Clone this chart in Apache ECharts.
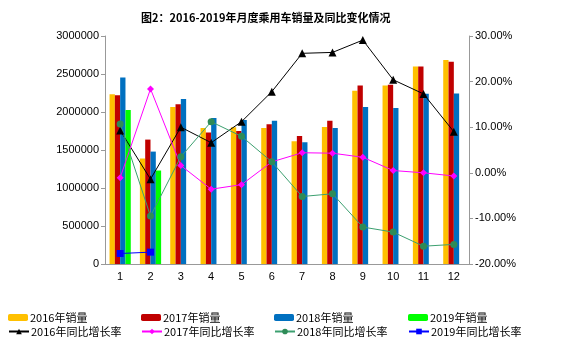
<!DOCTYPE html>
<html>
<head>
<meta charset="utf-8">
<script src="https://cdn.jsdelivr.net/npm/echarts@6/dist/echarts.min.js"></script>
<style>
  html, body { margin: 0; padding: 0; background: #fff; }
  #chart { width: 567px; height: 350px; }
</style>
</head>
<body>
<div id="chart"></div>
<script>
// Monthly passenger-vehicle sales and year-on-year growth, 2016-2019
const months = ['1', '2', '3', '4', '5', '6', '7', '8', '9', '10', '11', '12'];

const sales2016 = [2232000, 1388000, 2066000, 1790000, 1799000, 1790000, 1615000, 1803000, 2280000, 2350000, 2600000, 2683000];
const sales2017 = [2219000, 1637000, 2101000, 1729000, 1751000, 1838000, 1685000, 1886000, 2350000, 2359000, 2600000, 2661000];
const sales2018 = [2455000, 1479000, 2171000, 1921000, 1895000, 1886000, 1602000, 1790000, 2066000, 2052000, 2241000, 2245000];
const sales2019 = [2026000, 1230000, null, null, null, null, null, null, null, null, null, null];

const growth2016 = [9.3, -1.4, 10.0, 6.6, 11.2, 17.8, 26.2, 26.4, 29.1, 20.4, 17.3, 9.0];
const growth2017 = [-1.1, 18.4, 1.6, -3.6, -2.6, 2.4, 4.4, 4.3, 3.4, 0.5, 0.0, -0.7];
const growth2018 = [10.7, -9.5, 3.5, 11.2, 8.0, 2.4, -5.2, -4.6, -11.9, -13.0, -16.1, -15.7];
const growth2019 = [-17.7, -17.4, null, null, null, null, null, null, null, null, null, null];

const leftTicks = { min: 0, max: 3000000, interval: 500000 };
const rightTicks = { min: -20, max: 30, interval: 10 };

const labelFont = 'Liberation Sans, DejaVu Sans, sans-serif';
const cjkFont = '"Noto Sans CJK SC", sans-serif';

const chart = echarts.init(document.getElementById('chart'), null, { renderer: 'canvas' });

function barSeries(name, data, color) {
  return {
    name, type: 'bar', data, yAxisIndex: 0,
    barGap: '0%', barCategoryGap: '30%',
    itemStyle: { color },
    emphasis: { disabled: true }
  };
}

function lineSeries(name, data, color, symbol, size, markerColor) {
  return {
    name, type: 'line', data, yAxisIndex: 1,
    symbol, symbolSize: size,
    lineStyle: { color, width: 1 },
    itemStyle: { color: markerColor || color },
    z: 5,
    emphasis: { disabled: true }
  };
}

const legendCols = [8, 141, 274, 408];
const legendRows = [312, 326];
const legendItems = [
  '2016年销量', '2017年销量', '2018年销量', '2019年销量',
  '2016年同比增长率', '2017年同比增长率', '2018年同比增长率', '2019年同比增长率'
];
const legends = legendItems.map((name, i) => ({
  data: [name],
  left: legendCols[i % 4],
  top: legendRows[Math.floor(i / 4)],
  itemWidth: 20,
  itemHeight: 7,
  padding: 0,
  itemGap: 2,
  selectedMode: false,
  textStyle: { fontFamily: cjkFont, fontSize: 11, color: '#000', padding: [0, 0, 0, -3] }
}));

chart.setOption({
  animation: false,
  backgroundColor: '#fff',
  title: {
    text: '图2：2016-2019年月度乘用车销量及同比变化情况',
    left: 136, top: 7,
    textStyle: { fontFamily: cjkFont, fontSize: 11, fontWeight: 'bold', color: '#000' }
  },
  legend: legends,
  grid: { left: 105, right: 98, top: 36, bottom: 86 },
  xAxis: {
    type: 'category',
    data: months,
    axisLine: { lineStyle: { color: '#999' } },
    axisTick: { lineStyle: { color: '#999' }, length: 4 },
    axisLabel: { color: '#000', fontFamily: labelFont, fontSize: 11, margin: 7 }
  },
  yAxis: [
    {
      type: 'value', min: leftTicks.min, max: leftTicks.max, interval: leftTicks.interval,
      splitLine: { show: false },
      axisLine: { show: true, lineStyle: { color: '#999' } },
      axisTick: { show: true, lineStyle: { color: '#999' }, length: 4 },
      axisLabel: { color: '#000', fontFamily: labelFont, fontSize: 11, margin: 6, formatter: v => String(v) }
    },
    {
      type: 'value', min: rightTicks.min, max: rightTicks.max, interval: rightTicks.interval,
      position: 'right',
      splitLine: { show: false },
      axisLine: { show: true, lineStyle: { color: '#999' } },
      axisTick: { show: true, lineStyle: { color: '#999' }, length: 4 },
      axisLabel: {
        color: '#000', fontFamily: labelFont, fontSize: 11, margin: 6,
        formatter: v => v.toFixed(2) + '%'
      }
    }
  ],
  series: [
    barSeries('2016年销量', sales2016, '#FFC000'),
    barSeries('2017年销量', sales2017, '#C00000'),
    barSeries('2018年销量', sales2018, '#0070C0'),
    barSeries('2019年销量', sales2019, '#00FF00'),
    lineSeries('2016年同比增长率', growth2016, '#000000', 'triangle', 8),
    lineSeries('2017年同比增长率', growth2017, '#FF00FF', 'diamond', 7),
    lineSeries('2018年同比增长率', growth2018, '#3CA070', 'circle', 7, '#2E8B57'),
    lineSeries('2019年同比增长率', growth2019, '#0000FF', 'rect', 7)
  ]
});
</script>
</body>
</html>
